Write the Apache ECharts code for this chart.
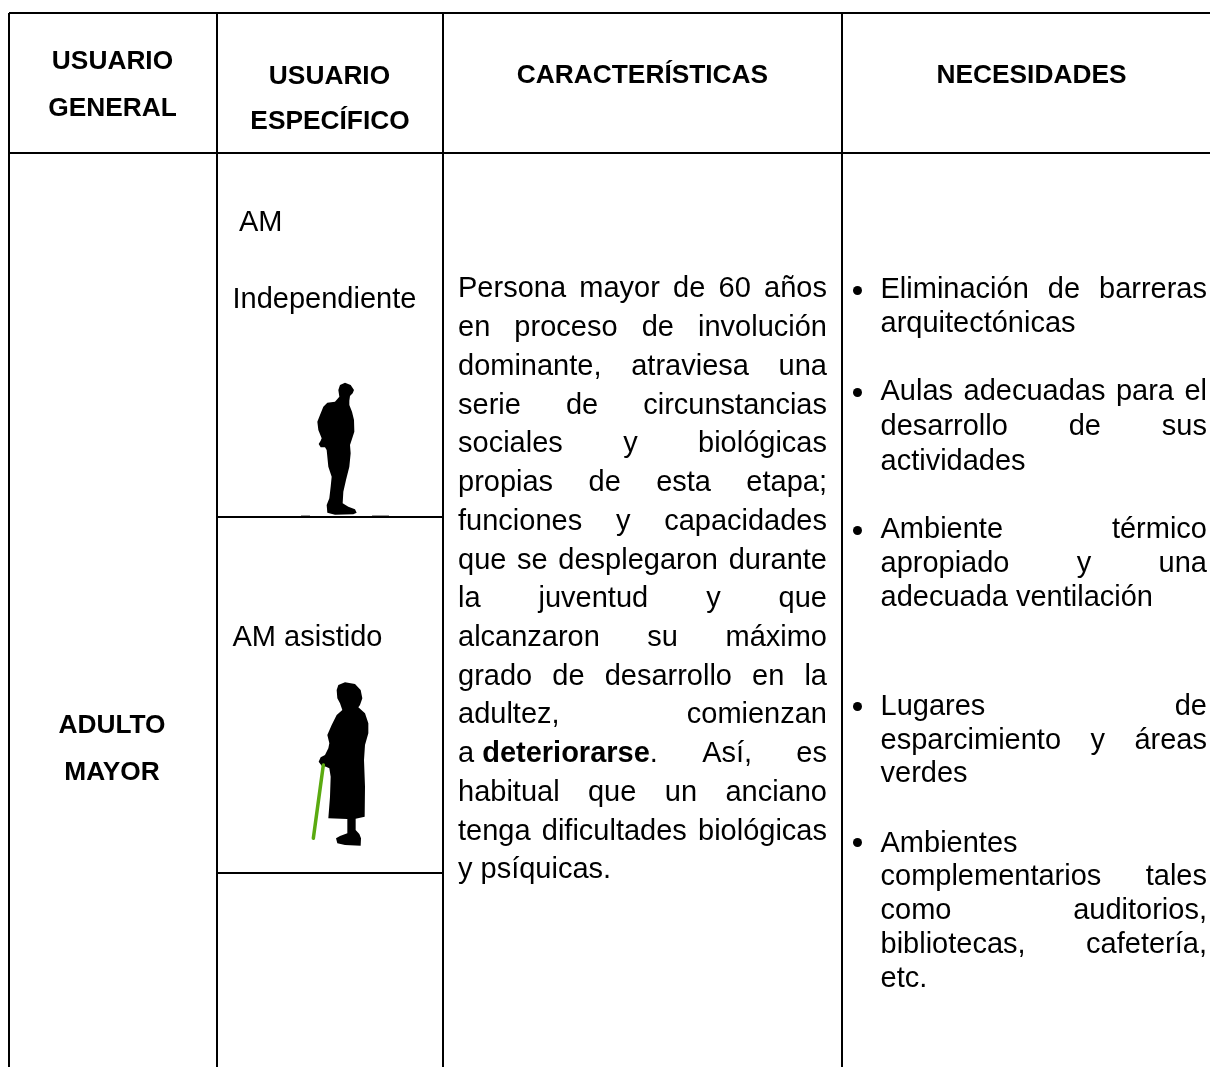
<!DOCTYPE html>
<html><head><meta charset="utf-8">
<style>html,body{margin:0;padding:0;background:#fff}#c{width:1210px;height:1067px}</style>
<script src="https://cdn.jsdelivr.net/npm/echarts@6/dist/echarts.min.js"></script></head>
<body><div id="c"></div>
<script>
const headers = [
  ["USUARIO", 112.5, 62], ["GENERAL", 112.5, 109],
  ["USUARIO", 329.5, 77], ["ESPECÍFICO", 330, 122],
  ["CARACTERÍSTICAS", 642.5, 76], ["NECESIDADES", 1031.5, 76],
  ["ADULTO", 112, 726], ["MAYOR", 112, 773]
];
const userLabels = [["AM", 239, 223], ["Independiente", 232.5, 300], ["AM asistido", 232.5, 638]];
const paragraph = [
  ["Persona mayor de 60 años", 289, 1], ["en proceso de involución", 328, 1],
  ["dominante, atraviesa una", 367, 1], ["serie de circunstancias", 406, 1],
  ["sociales y biológicas", 444, 1], ["propias de esta etapa;", 483, 1],
  ["funciones y capacidades", 522, 1], ["que se desplegaron durante", 561, 1],
  ["la juventud y que", 599, 1], ["alcanzaron su máximo", 638, 1],
  ["grado de desarrollo en la", 677, 1], ["adultez, comienzan", 715, 1],
  ["a\u00a0*deteriorarse*. Así, es", 754, 1], ["habitual que un anciano", 793, 1],
  ["tenga dificultades biológicas", 832, 1], ["y psíquicas.", 870, 0]
];
const needs = [
  ["Eliminación de barreras", 290, 1], ["arquitectónicas", 324, 0],
  ["Aulas adecuadas para el", 392, 1], ["desarrollo de sus", 427, 1], ["actividades", 462, 0],
  ["Ambiente térmico", 530, 1], ["apropiado y una", 564, 1], ["adecuada\u00a0ventilación", 598, 0],
  ["Lugares de", 707, 1], ["esparcimiento y áreas", 741, 1], ["verdes", 774, 0],
  ["Ambientes", 844, 0], ["complementarios tales", 877, 1], ["como auditorios,", 911, 1],
  ["bibliotecas, cafetería,", 945, 1], ["etc.", 979, 0]
];
const bulletRows = [290.5, 392.5, 530.5, 706.5, 842.5];
const rules = [
  [9, 13, 1210, 13], [9, 153, 1210, 153], [9, 13, 9, 1067], [217, 13, 217, 1067],
  [443, 13, 443, 1067], [842, 13, 842, 1067], [217, 517, 443, 517], [217, 873, 443, 873]
];
const manShape = [[150,45],[165,38],[182,45],[192,60],[188,70],[180,78],[178,92],[178,105],[186,125],[192,150],[193,185],[185,210],[180,225],[182,250],[178,290],[168,330],[160,365],[158,400],[175,410],[195,418],[200,428],[190,433],[135,434],[112,428],[110,405],[118,385],[122,350],[125,320],[115,290],[110,240],[105,232],[92,232],[86,222],[92,212],[95,205],[85,180],[82,155],[90,135],[100,110],[112,98],[135,95],[148,80],[145,60]];
const womanShape = [[145,45],[165,37],[195,42],[212,60],[217,85],[210,105],[205,112],[225,130],[235,160],[235,190],[225,225],[222,270],[225,350],[224,440],[197,446],[197,480],[208,492],[213,505],[212,527],[165,525],[142,520],[138,505],[150,498],[172,490],[172,447],[115,445],[120,380],[122,320],[118,295],[108,290],[95,287],[86,275],[92,262],[105,255],[115,235],[118,220],[112,195],[125,165],[140,135],[157,120],[150,100],[142,85],[140,60]];
const caneLine = [[100,285],[70,505]];
const floorMarks = [[301, 310], [372, 389]];

const FONT = '"Liberation Sans", Arial, sans-serif';
const BODY = 29, HEAD = 26.3;
const ctx = document.createElement('canvas').getContext('2d');
const width = (s, bold) => { ctx.font = (bold ? 'bold ' : '') + BODY + 'px ' + FONT; return ctx.measureText(s).width; };
const els = [];
const text = (s, x, y, size, bold, align) => els.push({type:'text', silent:true, style:{text:s, x, y, fill:'#000', font:(bold?'bold ':'')+size+'px '+FONT, textAlign:align||'left', textVerticalAlign:'middle'}});

rules.forEach(r => els.push({type:'line', shape:{x1:r[0],y1:r[1],x2:r[2],y2:r[3]}, style:{stroke:'#000', lineWidth:2}}));
headers.forEach(h => text(h[0], h[1], h[2], HEAD, true, 'center'));
userLabels.forEach(u => text(u[0], u[1], u[2], BODY, false));

function block(lines, left, right) {
  lines.forEach(([s, y, just]) => {
    const words = s.split(' ').map(w => w.split('*').map((t, i) => ({t, b: i % 2 === 1})));
    const ws = words.map(runs => runs.reduce((a, r) => a + width(r.t, r.b), 0));
    const total = ws.reduce((a, b) => a + b, 0);
    const gap = just && words.length > 1 ? (right - left - total) / (words.length - 1) : width(' ');
    let x = left;
    words.forEach((runs, i) => {
      let rx = x;
      runs.forEach(r => { if (r.t) text(r.t, rx, y, BODY, r.b); rx += width(r.t, r.b); });
      x += ws[i] + gap;
    });
  });
}
block(paragraph, 458, 827);
block(needs, 880.5, 1207);
bulletRows.forEach(y => els.push({type:'circle', shape:{cx:857.5, cy:y, r:4.5}, style:{fill:'#000'}}));

const place = (pts, ox, oy) => pts.map(p => [ox + p[0] / 3, oy + p[1] / 3]);
els.push({type:'polygon', shape:{points:place(manShape, 290, 370)}, style:{fill:'#000'}});
els.push({type:'polygon', shape:{points:place(womanShape, 290, 670)}, style:{fill:'#000'}});
const cane = place(caneLine, 290, 670);
els.push({type:'line', shape:{x1:cane[0][0],y1:cane[0][1],x2:cane[1][0],y2:cane[1][1]}, style:{stroke:'#5aaa10', lineWidth:3.5, lineCap:'round'}});
floorMarks.forEach(m => els.push({type:'line', shape:{x1:m[0],y1:515.5,x2:m[1],y2:515.5}, style:{stroke:'#999', lineWidth:1}}));

const chart = echarts.init(document.getElementById('c'), null, {renderer:'canvas'});
chart.setOption({animation:false, backgroundColor:'#fff', graphic:{elements:els}});
</script></body></html>
